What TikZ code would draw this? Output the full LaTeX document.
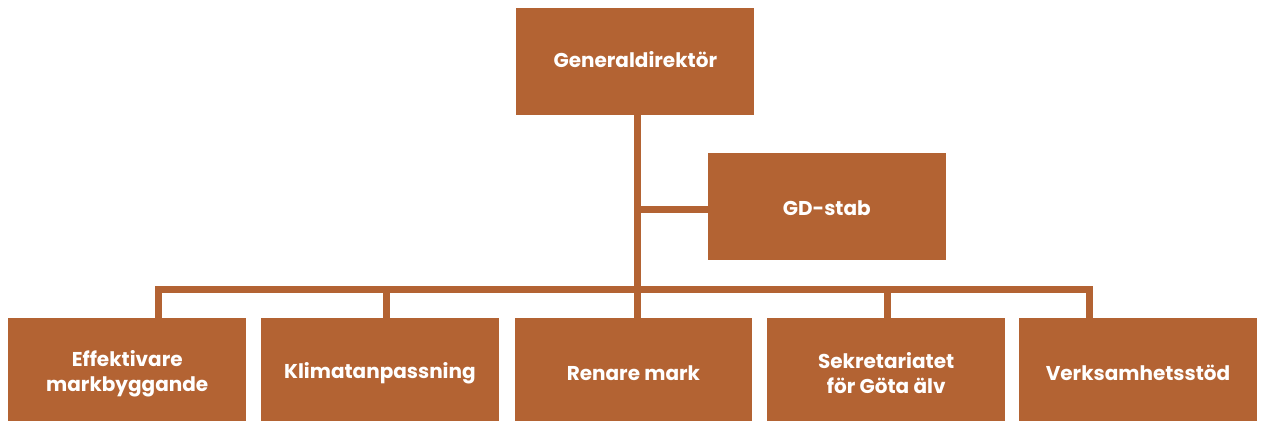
\documentclass[tikz,border=0pt]{standalone}
\usepackage{fontspec}
\setmainfont{Poppins}
\definecolor{rust}{HTML}{B36333}
\begin{document}
\begin{tikzpicture}[x=1pt,y=-1pt,
  orgbox/.style={fill=rust,draw=none,inner sep=0pt,minimum width=237.7pt},
  boxtext/.style={text=white,font=\fontsize{20}{25}\selectfont\bfseries,align=center,inner sep=0pt},
  topbox/.style={orgbox,minimum height=106.7pt},
  lowbox/.style={orgbox,minimum height=102.5pt},
  conn/.style={draw=rust,line width=7pt}]
\useasboundingbox (0,0) rectangle (1261,421);
\node[topbox,label={[boxtext,yshift=2pt]center:Generaldirektör}] (top) at (635.3,61.7) {};
\node[topbox,label={[boxtext,yshift=-1pt]center:GD-stab}] (gd) at (826.8,206.7) {};
\node[lowbox,label={[boxtext,yshift=-4pt]center:{Effektivare\\markbyggande}}] (b1) at (127.2,369.3) {};
\node[lowbox,label={[boxtext,yshift=-4pt]center:Klimatanpassning}] (b2) at (379.9,369.3) {};
\node[lowbox,label={[boxtext,yshift=-4pt]center:Renare mark}] (b3) at (633.4,369.3) {};
\node[lowbox,label={[boxtext,yshift=-4pt]center:{Sekretariatet\\för Göta älv}}] (b4) at (886.2,369.3) {};
\node[lowbox,label={[boxtext,yshift=-4pt]center:Verksamhetsstöd}] (b5) at (1138.0,369.3) {};
\coordinate (sp) at (637.6,209);
\coordinate (bl) at (158,289.3);
\coordinate (br) at (1089,289.3);
\coordinate (d2) at (386,289.3);
\coordinate (d4) at (887.5,289.3);
\draw[conn] (top.south -| sp) -- (b3.north -| sp);
\draw[conn] (sp) -- (sp -| gd.west);
\draw[conn] (b1.north -| bl) -- (bl) -- (br) -- (b5.north -| br);
\draw[conn] (d2) -- (b2.north -| d2);
\draw[conn] (d4) -- (b4.north -| d4);
\end{tikzpicture}
\end{document}
